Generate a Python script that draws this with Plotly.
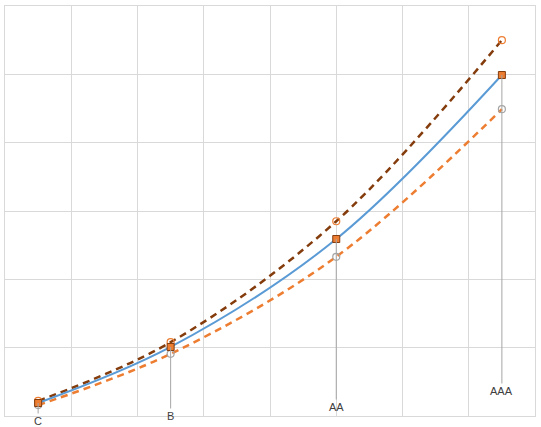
import plotly.graph_objects as go

ratings = ["C", "B", "AA", "AAA"]
x_vals = [0.5, 2.5, 5.0, 7.5]
mid_curve = [0.19, 1.01, 2.59, 4.99]
upper_curve = [0.22, 1.08, 2.85, 5.50]
lower_curve = [0.16, 0.91, 2.33, 4.49]
label_offsets = [18, 69, 168, 316]

GRID = "#d9d9d9"
fig = go.Figure()

fig.add_trace(go.Scatter(
    x=x_vals, y=upper_curve, mode="lines+markers", line_shape="spline",
    line=dict(color="#843C0C", width=2.5, dash="7px,5px"),
    marker=dict(symbol="circle-open", size=7, color="#ED7D31", line=dict(width=1.2)),
    showlegend=False))
fig.add_trace(go.Scatter(
    x=x_vals, y=lower_curve, mode="lines+markers", line_shape="spline",
    line=dict(color="#ED7D31", width=2.5, dash="7px,5px"),
    marker=dict(symbol="circle-open", size=7, color="#A5A5A5", line=dict(width=1.2)),
    showlegend=False))
fig.add_trace(go.Scatter(
    x=x_vals, y=mid_curve, mode="lines+markers", line_shape="spline",
    line=dict(color="#5B9BD5", width=2),
    marker=dict(symbol="square", size=7, color="#ED7D31", line=dict(color="#843C0C", width=1)),
    showlegend=False))

for xv, yv, lab, off in zip(x_vals, mid_curve, ratings, label_offsets):
    fig.add_annotation(x=xv, y=yv, text=lab, showarrow=True, arrowhead=0,
                       arrowwidth=1, arrowcolor="#A5A5A5", ax=0, ay=off,
                       font=dict(family="Liberation Sans, Arial", size=11, color="#404040"))

fig.update_xaxes(range=[0, 8], dtick=1, showgrid=True, gridcolor=GRID, gridwidth=1,
                 showticklabels=False, zeroline=False, showline=True, mirror=True,
                 linecolor=GRID, linewidth=1, ticks="")
fig.update_yaxes(range=[0, 6], dtick=1, showgrid=True, gridcolor=GRID, gridwidth=1,
                 showticklabels=False, zeroline=False, showline=True, mirror=True,
                 linecolor=GRID, linewidth=1, ticks="")
fig.update_layout(width=541, height=427, margin=dict(l=5, r=6, t=6, b=11),
                  plot_bgcolor="white", paper_bgcolor="white")
fig.write_html("out.html", config={"displayModeBar": False},
               post_script="document.body.style.margin='0';")
